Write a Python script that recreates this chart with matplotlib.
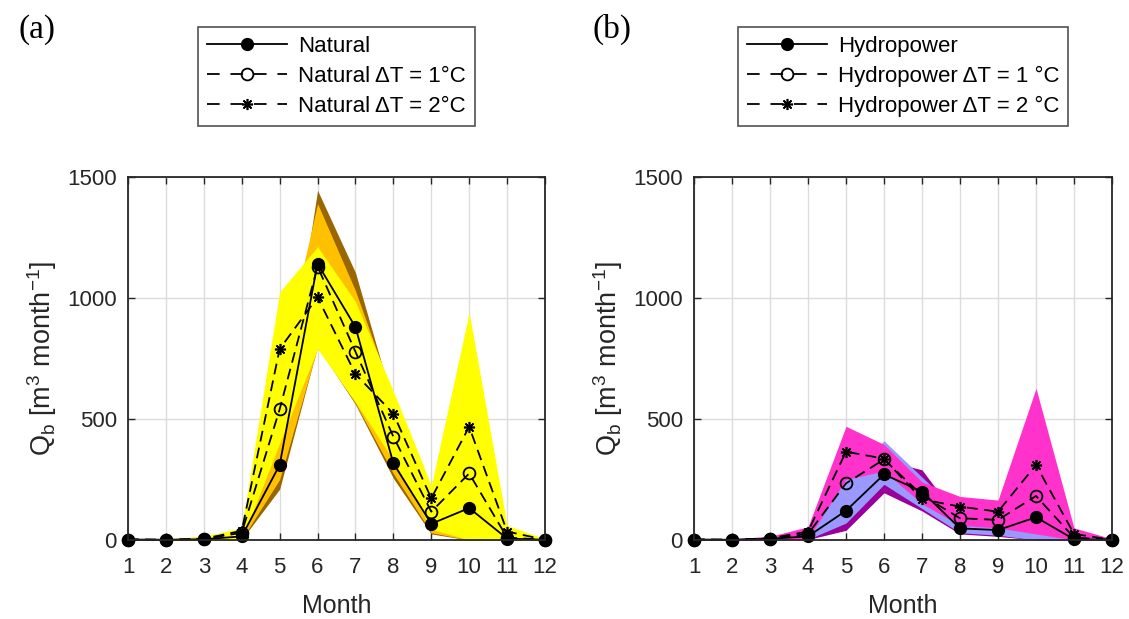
import matplotlib
matplotlib.use("Agg")
import matplotlib.pyplot as plt
from matplotlib.lines import Line2D
import numpy as np

plt.rcParams['font.family'] = ['Liberation Sans', 'DejaVu Sans']
plt.rcParams['mathtext.default'] = 'regular'

months = np.arange(1, 13)

# Panel (a): natural regime, mean series
natural = [2, 1, 3, 15, 310, 1142, 880, 317, 67, 132, 6, 1]
natural_dt1 = [2, 1, 4, 30, 540, 1130, 778, 427, 117, 275, 10, 1]
natural_dt2 = [2, 1, 5, 38, 789, 1003, 686, 522, 172, 468, 35, 1]

# Panel (a): min/max envelopes
natural_lo = [0, 0, 0, 2, 210, 800, 560, 255, 25, 0, 0, 0]
natural_hi = [5, 5, 12, 35, 420, 1445, 1105, 560, 110, 210, 20, 5]
natural_dt1_lo = [0, 0, 0, 3, 250, 795, 565, 275, 30, 0, 0, 0]
natural_dt1_hi = [5, 5, 14, 45, 700, 1390, 1030, 590, 160, 420, 30, 5]
natural_dt2_lo = [0, 0, 0, 0, 400, 790, 570, 330, 45, 0, 0, 0]
natural_dt2_hi = [5, 5, 15, 50, 1025, 1212, 985, 615, 225, 940, 60, 5]

# Panel (b): hydropower regime, mean series
hydro = [2, 1, 5, 15, 121, 271, 200, 48, 41, 94, 3, 1]
hydro_dt1 = [2, 1, 6, 25, 234, 333, 185, 90, 83, 182, 10, 1]
hydro_dt2 = [2, 1, 7, 35, 365, 336, 168, 138, 117, 310, 25, 1]

# Panel (b): min/max envelopes
hydro_lo = [0, 0, 0, 2, 40, 195, 120, 25, 15, 0, 0, 0]
hydro_hi = [5, 5, 12, 30, 170, 330, 290, 80, 60, 130, 15, 5]
hydro_dt1_lo = [0, 0, 0, 3, 70, 230, 130, 30, 20, 0, 0, 0]
hydro_dt1_hi = [5, 5, 14, 40, 250, 410, 260, 110, 90, 250, 25, 5]
hydro_dt2_lo = [0, 0, 0, 5, 250, 285, 150, 60, 50, 25, 0, 0]
hydro_dt2_hi = [5, 5, 15, 55, 470, 395, 240, 180, 165, 627, 50, 5]

fig = plt.figure(figsize=(11.29, 6.19), dpi=100)

ax_a = fig.add_axes([128/1129, 1-540/619, 417/1129, 363/619])
ax_b = fig.add_axes([694/1129, 1-540/619, 418/1129, 363/619])

dash = (6, 3.5)
axcol = '#262626'
tick_fs = 16
label_fs = 18
legend_fs = 16


def draw(ax, bands, series, labels):
    for lo, hi, col in bands:
        ax.fill_between(months, lo, hi, color=col, lw=0, zorder=1)
    (s0, s1, s2) = series
    ax.plot(months, s0, '-', color='k', lw=1.3, marker='o', ms=8.5,
            mfc='k', mec='k', clip_on=False, zorder=5)
    ax.plot(months, s1, color='k', lw=1.3, dashes=dash, marker='o', ms=8.5,
            mfc='none', mec='k', mew=1.3, clip_on=False, zorder=4)
    ax.plot(months, s2, color='k', lw=1.3, dashes=dash, marker=(8, 2, 0),
            ms=8, mec='k', mew=1.2, clip_on=False, zorder=4)
    ax.set_xlim(1, 12)
    ax.set_ylim(0, 1500)
    ax.set_xticks(months)
    ax.set_yticks([0, 500, 1000, 1500])
    ax.grid(True, color='#dcdcdc', lw=1.0)
    ax.set_axisbelow(True)
    for sp in ax.spines.values():
        sp.set_color(axcol)
        sp.set_linewidth(1.3)
        sp.set_zorder(6)
    ax.tick_params(direction='in', length=5, width=1.0, top=True, right=True,
                   colors=axcol, labelsize=tick_fs)
    ax.tick_params(axis='x', pad=12)
    ax.tick_params(axis='y', pad=8)
    ax.set_xlabel('Month', fontsize=label_fs, color=axcol, labelpad=12)
    ax.set_ylabel(r'Q$_b$ [m$^3$ month$^{-1}$]', fontsize=19.5,
                  color=axcol, labelpad=6)

    handles = [
        Line2D([], [], color='k', lw=1.3, marker='o', ms=8.5, mfc='k'),
        Line2D([], [], color='k', lw=1.3, dashes=(7, 6), marker='o', ms=8.5,
               mfc='none', mew=1.3),
        Line2D([], [], color='k', lw=1.3, dashes=(7, 6), marker=(8, 2, 0),
               ms=8, mew=1.2),
    ]
    pos = ax.get_position()
    leg = fig.legend(handles, labels, loc='upper center',
                     bbox_to_anchor=((pos.x0 + pos.x1) / 2, 1 - 27/619),
                     bbox_transform=fig.transFigure, numpoints=1,
                     handlelength=3.6, fontsize=legend_fs, frameon=True,
                     fancybox=False, edgecolor=axcol, borderpad=0.4,
                     labelspacing=0.4, handletextpad=0.5, borderaxespad=0)
    leg.get_frame().set_linewidth(1.2)


draw(ax_a,
     [(natural_lo, natural_hi, '#996600'),
      (natural_dt1_lo, natural_dt1_hi, '#FFC000'),
      (natural_dt2_lo, natural_dt2_hi, '#FFFF00')],
     (natural, natural_dt1, natural_dt2),
     ['Natural', 'Natural \u0394T = 1\u00b0C', 'Natural \u0394T = 2\u00b0C'])

draw(ax_b,
     [(hydro_lo, hydro_hi, '#990099'),
      (hydro_dt1_lo, hydro_dt1_hi, '#9999FF'),
      (hydro_dt2_lo, hydro_dt2_hi, '#FF33CC')],
     (hydro, hydro_dt1, hydro_dt2),
     ['Hydropower', 'Hydropower \u0394T = 1 \u00b0C',
      'Hydropower \u0394T = 2 \u00b0C'])

fig.text(18/1129, 1-38/619, '(a)', family='Liberation Serif', fontsize=24)
fig.text(593/1129, 1-38/619, '(b)', family='Liberation Serif', fontsize=24)

fig.savefig('out.png', dpi=100)
